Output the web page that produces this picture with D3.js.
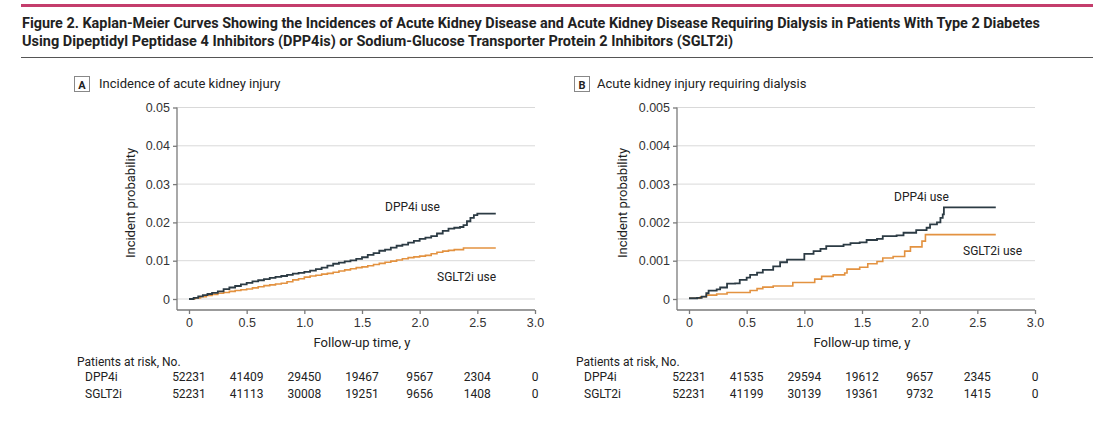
<!DOCTYPE html>
<html>
<head>
<meta charset="utf-8">
<script src="https://cdn.jsdelivr.net/npm/d3@7"></script>
<style>
  body { margin: 0; background: #fff; }
  svg { display: block; font-family: Roboto, "Open Sans", sans-serif; }
  .num { font-variant-numeric: tabular-nums; }
</style>
</head>
<body>
<svg id="chart" width="1103" height="435"></svg>
<script>
// ---- data ----
var titleLines = [
  'Figure 2. Kaplan-Meier Curves Showing the Incidences of Acute Kidney Disease and Acute Kidney Disease Requiring Dialysis in Patients With Type 2 Diabetes',
  'Using Dipeptidyl Peptidase 4 Inhibitors (DPP4is) or Sodium-Glucose Transporter Protein 2 Inhibitors (SGLT2i)'
];
var titleWidths = [1018, 711];
var groups = ['DPP4i', 'SGLT2i'];
var xTicks = [0, 0.5, 1.0, 1.5, 2.0, 2.5, 3.0];

// panel A: incidence of acute kidney injury
var aTicksY = [0, 0.01, 0.02, 0.03, 0.04, 0.05];
var aDppT = [0, 0.04, 0.08, 0.12, 0.16, 0.2, 0.25, 0.3, 0.35, 0.4, 0.45, 0.5, 0.55, 0.6, 0.65, 0.7, 0.75, 0.8, 0.85, 0.9, 0.95, 1.0, 1.05, 1.1, 1.15, 1.2, 1.25, 1.3, 1.35, 1.4, 1.45, 1.5, 1.55, 1.6, 1.65, 1.7, 1.75, 1.8, 1.85, 1.9, 1.95, 2.0, 2.05, 2.1, 2.15, 2.2, 2.25, 2.3, 2.35, 2.38, 2.41, 2.44, 2.47, 2.5, 2.66];
var aDppV = [0, 0.0003, 0.0007, 0.001, 0.0013, 0.0016, 0.002, 0.0026, 0.003, 0.0034, 0.0038, 0.0042, 0.0046, 0.0049, 0.0052, 0.0055, 0.0058, 0.006, 0.0063, 0.0066, 0.0068, 0.0071, 0.0074, 0.0078, 0.0082, 0.0087, 0.0092, 0.0095, 0.0098, 0.0101, 0.0105, 0.0109, 0.0115, 0.012, 0.0126, 0.0129, 0.0134, 0.0139, 0.0142, 0.0147, 0.0152, 0.0157, 0.016, 0.0164, 0.0171, 0.0178, 0.0184, 0.0186, 0.0188, 0.0193, 0.0203, 0.0212, 0.0219, 0.0223, 0.0223];
var aSgltT = [0, 0.05, 0.1, 0.15, 0.2, 0.25, 0.3, 0.35, 0.4, 0.45, 0.5, 0.55, 0.6, 0.65, 0.7, 0.75, 0.8, 0.85, 0.9, 0.95, 1.0, 1.05, 1.1, 1.15, 1.2, 1.25, 1.3, 1.35, 1.4, 1.45, 1.5, 1.55, 1.6, 1.65, 1.7, 1.75, 1.8, 1.85, 1.9, 1.95, 2.0, 2.05, 2.1, 2.15, 2.2, 2.25, 2.3, 2.38, 2.66];
var aSgltV = [0, 0.0003, 0.0006, 0.0009, 0.0012, 0.0015, 0.0017, 0.002, 0.0022, 0.0024, 0.0026, 0.0029, 0.0032, 0.0035, 0.0037, 0.0039, 0.0041, 0.0045, 0.005, 0.0053, 0.0057, 0.006, 0.0062, 0.0065, 0.0067, 0.007, 0.0073, 0.0076, 0.0079, 0.0082, 0.0084, 0.0087, 0.009, 0.0093, 0.0096, 0.0099, 0.0102, 0.0105, 0.0108, 0.011, 0.0112, 0.0114, 0.0118, 0.0122, 0.0125, 0.0127, 0.0129, 0.0133, 0.0133];
var aRiskDpp = [52231, 41409, 29450, 19467, 9567, 2304, 0];
var aRiskSglt = [52231, 41113, 30008, 19251, 9656, 1408, 0];

// panel B: acute kidney injury requiring dialysis
var bTicksY = [0, 0.001, 0.002, 0.003, 0.004, 0.005];
var bDppT = [0, 0.07, 0.11, 0.15, 0.17, 0.24, 0.27, 0.33, 0.4, 0.44, 0.5, 0.53, 0.59, 0.64, 0.73, 0.79, 0.85, 1.0, 1.08, 1.14, 1.19, 1.34, 1.4, 1.48, 1.54, 1.63, 1.68, 1.8, 1.86, 1.97, 2.06, 2.09, 2.15, 2.18, 2.2, 2.21, 2.66];
var bDppV = [0.00002, 0.00003, 0.00006, 0.00015, 0.00022, 0.00025, 0.0003, 0.0004, 0.00041, 0.0005, 0.00056, 0.00063, 0.00069, 0.00076, 0.00085, 0.00096, 0.00103, 0.00118, 0.00125, 0.00131, 0.00138, 0.00142, 0.00146, 0.00148, 0.00154, 0.00157, 0.00164, 0.00166, 0.00173, 0.0018, 0.00186, 0.00195, 0.002, 0.00212, 0.00221, 0.00239, 0.00239];
var bSgltT = [0, 0.1, 0.15, 0.24, 0.33, 0.53, 0.59, 0.64, 0.73, 0.9, 1.09, 1.15, 1.25, 1.35, 1.37, 1.48, 1.55, 1.63, 1.68, 1.77, 1.87, 1.92, 2.02, 2.05, 2.66];
var bSgltV = [0.00002, 0.00006, 0.0001, 0.00013, 0.00017, 0.00022, 0.00027, 0.00031, 0.00034, 0.00043, 0.00052, 0.00059, 0.00063, 0.00068, 0.00078, 0.00083, 0.00092, 0.00098, 0.00107, 0.00111, 0.00125, 0.00136, 0.00151, 0.00168, 0.00168];
var bRiskDpp = [52231, 41535, 29594, 19612, 9657, 2345, 0];
var bRiskSglt = [52231, 41199, 30139, 19361, 9732, 1415, 0];

var colDpp = '#2c3b44';
var colSglt = '#e39240';
var txt = '#222';

var svg = d3.select('#chart');

// ---- header ----
svg.append('rect').attr('x', 21).attr('y', 4).attr('width', 1072).attr('height', 3).attr('fill', '#c43d6c');
svg.append('line').attr('x1', 21).attr('x2', 1093).attr('y1', 57.5).attr('y2', 57.5).attr('stroke', '#555').attr('stroke-width', 1);
svg.selectAll('text.title')
  .data(titleLines)
  .enter()
  .append('text')
    .attr('class', 'title')
    .attr('x', 22)
    .attr('y', function(d, i) { return 28 + i * 17.5; })
    .attr('font-size', '14px')
    .attr('font-weight', 'bold')
    .attr('fill', txt)
    .attr('textLength', function(d, i) { return titleWidths[i]; })
    .attr('lengthAdjust', 'spacingAndGlyphs')
    .text(function(d) { return d; });

function panel(opt) {
  var g = svg.append('g').attr('transform', 'translate(' + opt.dx + ',0)');
  var x = d3.scaleLinear().domain([0, 3]).range([189, 535]);
  var y = d3.scaleLinear().domain([0, opt.yMax]).range([299, 107.5]);

  // panel letter + heading
  g.append('rect').attr('x', 74.5).attr('y', 76.5).attr('width', 15).attr('height', 15)
    .attr('fill', '#fff').attr('stroke', '#888');
  g.append('text').attr('x', 82).attr('y', 88.5).attr('text-anchor', 'middle')
    .attr('font-size', '11px').attr('font-weight', 'bold').attr('fill', txt).text(opt.letter);
  g.append('text').attr('x', opt.headX).attr('y', 88).attr('font-size', '13px').attr('fill', txt).text(opt.heading);

  // gridlines
  g.selectAll('line.grid')
    .data(opt.yTicks)
    .enter()
    .append('line')
      .attr('class', 'grid')
      .attr('x1', 177).attr('x2', 535)
      .attr('y1', function(d) { return y(d); })
      .attr('y2', function(d) { return y(d); })
      .attr('stroke', '#d9d9d9');

  // y axis
  var yAxis = g.append('g').attr('transform', 'translate(177,0)')
    .call(d3.axisLeft(y).tickValues(opt.yTicks).tickSize(4).tickFormat(opt.yFmt));
  yAxis.select('.domain').attr('d', 'M0,' + y(opt.yMax) + 'V310');
  // x axis
  var xAxis = g.append('g').attr('transform', 'translate(0,310)')
    .call(d3.axisBottom(x).tickValues(xTicks).tickSize(4).tickFormat(function(d) { return d === 0 ? '0' : d3.format('.1f')(d); }));
  xAxis.select('.domain').attr('d', 'M177,0H535');
  [yAxis, xAxis].forEach(function(a) {
    a.selectAll('.domain, .tick line').attr('stroke', '#7a7a7a').attr('stroke-width', 1.3);
    a.selectAll('.tick text').attr('font-size', '12.5px').attr('fill', '#333').attr('font-family', null);
  });
  yAxis.selectAll('.tick text').attr('x', -7);
  xAxis.selectAll('.tick text').attr('y', 8);

  g.append('text').attr('transform', 'translate(' + opt.ylabX + ',203) rotate(-90)')
    .attr('text-anchor', 'middle').attr('font-size', '13px').attr('fill', txt).text('Incident probability');
  g.append('text').attr('x', 362).attr('y', 347).attr('text-anchor', 'middle')
    .attr('font-size', '13px').attr('fill', txt).text('Follow-up time, y');

  // curves
  var line = d3.line()
    .x(function(d) { return x(d[0]); })
    .y(function(d) { return y(d[1]); })
    .curve(d3.curveStepAfter);
  g.append('path').datum(d3.zip(opt.sgltT, opt.sgltV)).attr('d', line)
    .attr('fill', 'none').attr('stroke', colSglt).attr('stroke-width', 1.6);
  g.append('path').datum(d3.zip(opt.dppT, opt.dppV)).attr('d', line)
    .attr('fill', 'none').attr('stroke', colDpp).attr('stroke-width', 1.8);

  g.append('text').attr('x', opt.dppLab[0]).attr('y', opt.dppLab[1]).attr('font-size', '12px').attr('fill', txt).text(opt.dppText);
  g.append('text').attr('x', opt.sgltLab[0]).attr('y', opt.sgltLab[1]).attr('font-size', '12px').attr('fill', txt).text('SGLT2i use');

  // number at risk
  g.append('text').attr('x', opt.riskX).attr('y', 366).attr('font-size', '12px').attr('fill', txt).text('Patients at risk, No.');
  [opt.riskDpp, opt.riskSglt].forEach(function(row, r) {
    var ry = 381 + r * 16.5;
    g.append('text').attr('x', opt.riskX + 8).attr('y', ry).attr('font-size', '12px').attr('fill', txt).text(groups[r]);
    g.selectAll('text.risk' + r)
      .data(row)
      .enter()
      .append('text')
        .attr('class', 'num risk' + r)
        .attr('x', function(d, i) { return x(xTicks[i]); })
        .attr('y', ry)
        .attr('text-anchor', 'middle')
        .attr('font-size', '12px')
        .attr('fill', txt)
        .text(function(d) { return d; });
  });
}

panel({
  dx: 0, letter: 'A', heading: 'Incidence of acute kidney injury', headX: 99,
  yMax: 0.05, yTicks: aTicksY, yFmt: function(d) { return d === 0 ? '0' : d3.format('.2f')(d); },
  dppT: aDppT, dppV: aDppV, sgltT: aSgltT, sgltV: aSgltV,
  riskDpp: aRiskDpp, riskSglt: aRiskSglt,
  ylabX: 135, dppText: 'DPP4i  use', dppLab: [385, 211], sgltLab: [437, 281], riskX: 77
});
panel({
  dx: 500, letter: 'B', heading: 'Acute kidney injury requiring dialysis', headX: 97,
  yMax: 0.005, yTicks: bTicksY, yFmt: function(d) { return d === 0 ? '0' : d3.format('.3f')(d); },
  dppT: bDppT, dppV: bDppV, sgltT: bSgltT, sgltV: bSgltV,
  riskDpp: bRiskDpp, riskSglt: bRiskSglt,
  ylabX: 127, dppText: 'DPP4i use', dppLab: [394, 201], sgltLab: [463, 255], riskX: 76
});
</script>
</body>
</html>
